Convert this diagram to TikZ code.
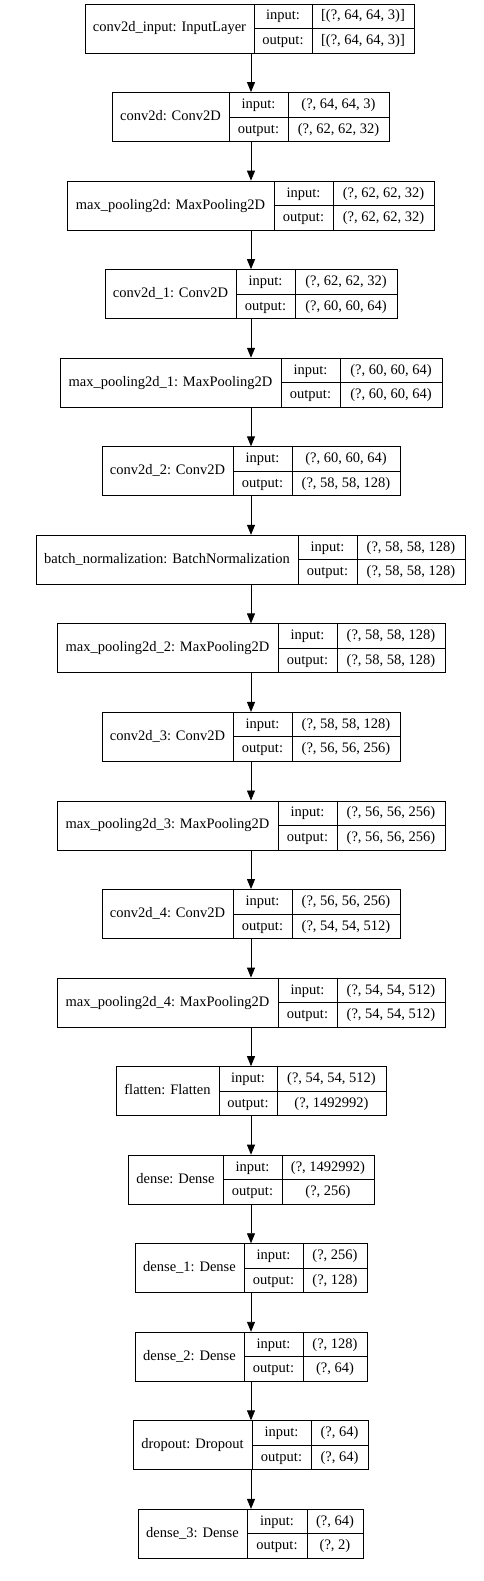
\documentclass[tikz,border=0pt]{standalone}
\usepackage{fontspec}
\setmainfont{Liberation Serif}
\usetikzlibrary{arrows.meta,positioning}

\begin{document}
\begin{tikzpicture}[x=1pt, y=-1pt,
    layer/.style={draw=black, line width=0.9pt, inner sep=0pt, minimum height=49pt},
    rule/.style={draw=black, line width=0.9pt},
    cell/.style={inner sep=0pt, text height=10pt, text depth=3pt, font=\fontsize{14.5}{16}\selectfont},
    edge/.style={-{Triangle[length=10pt, width=8pt]}, line width=0.9pt, black}
]
\useasboundingbox (0,0) rectangle (483,1581);
\coordinate (axis) at (251,0);

% LAYERS: index / label / input / output / left / divider / divider / right
\foreach \i/\lbl/\inp/\outp/\xl/\xa/\xb/\xr in {
  1/{conv2d\_input: InputLayer}/{[(?, 64, 64, 3)]}/{[(?, 64, 64, 3)]}/85/254/312/414,
  2/{conv2d: Conv2D}/{(?, 64, 64, 3)}/{(?, 62, 62, 32)}/112/229/288/389,
  3/{max\_pooling2d: MaxPooling2D}/{(?, 62, 62, 32)}/{(?, 62, 62, 32)}/67/274/333/434,
  4/{conv2d\_1: Conv2D}/{(?, 62, 62, 32)}/{(?, 60, 60, 64)}/105/236/295/397,
  5/{max\_pooling2d\_1: MaxPooling2D}/{(?, 60, 60, 64)}/{(?, 60, 60, 64)}/60/281/340/442,
  6/{conv2d\_2: Conv2D}/{(?, 60, 60, 64)}/{(?, 58, 58, 128)}/102/233/292/400,
  7/{batch\_normalization: BatchNormalization}/{(?, 58, 58, 128)}/{(?, 58, 58, 128)}/36/298/357/465,
  8/{max\_pooling2d\_2: MaxPooling2D}/{(?, 58, 58, 128)}/{(?, 58, 58, 128)}/57/278/337/445,
  9/{conv2d\_3: Conv2D}/{(?, 58, 58, 128)}/{(?, 56, 56, 256)}/102/233/292/400,
  10/{max\_pooling2d\_3: MaxPooling2D}/{(?, 56, 56, 256)}/{(?, 56, 56, 256)}/57/278/337/445,
  11/{conv2d\_4: Conv2D}/{(?, 56, 56, 256)}/{(?, 54, 54, 512)}/102/233/292/400,
  12/{max\_pooling2d\_4: MaxPooling2D}/{(?, 54, 54, 512)}/{(?, 54, 54, 512)}/57/278/337/445,
  13/{flatten: Flatten}/{(?, 54, 54, 512)}/{(?, 1492992)}/116/219/277/386,
  14/{dense: Dense}/{(?, 1492992)}/{(?, 256)}/128/223/282/374,
  15/{dense\_1: Dense}/{(?, 256)}/{(?, 128)}/135/244/303/367,
  16/{dense\_2: Dense}/{(?, 128)}/{(?, 64)}/135/244/303/367,
  17/{dropout: Dropout}/{(?, 64)}/{(?, 64)}/133/252/311/368,
  18/{dense\_3: Dense}/{(?, 64)}/{(?, 2)}/138/247/307/363%
}{
  \pgfmathsetmacro\yt{4+88.55*(\i-1)}
  \node[layer, minimum width={(\xr-\xl)*1pt}] (L\i) at ({(\xl+\xr)/2}, {\yt+24.5}) {};
  % cell rules
  \draw[rule] (\xa, \yt) -- (\xa, {\yt+49});
  \draw[rule] (\xb, \yt) -- (\xb, {\yt+49});
  \draw[rule] (\xa, {\yt+24.5}) -- (\xr, {\yt+24.5});
  % cell texts
  \node[cell] (name\i) at ({(\xl+\xa)/2}, {\yt+24.5}) {\lbl};
  \node[cell] (inkey\i) at ({(\xa+\xb)/2}, {\yt+12.5}) {input:};
  \node[cell] (outkey\i) at ({(\xa+\xb)/2}, {\yt+37}) {output:};
  \node[cell] (inval\i) at ({(\xb+\xr)/2}, {\yt+12.5}) {\inp};
  \node[cell] (outval\i) at ({(\xb+\xr)/2}, {\yt+37}) {\outp};
  % connector from previous layer
  \ifnum\i>1
    \pgfmathtruncatemacro\j{\i-1}
    \draw[edge] (L\j.south -| axis) -- (L\i.north -| axis);
  \fi
}

\end{tikzpicture}
\end{document}
